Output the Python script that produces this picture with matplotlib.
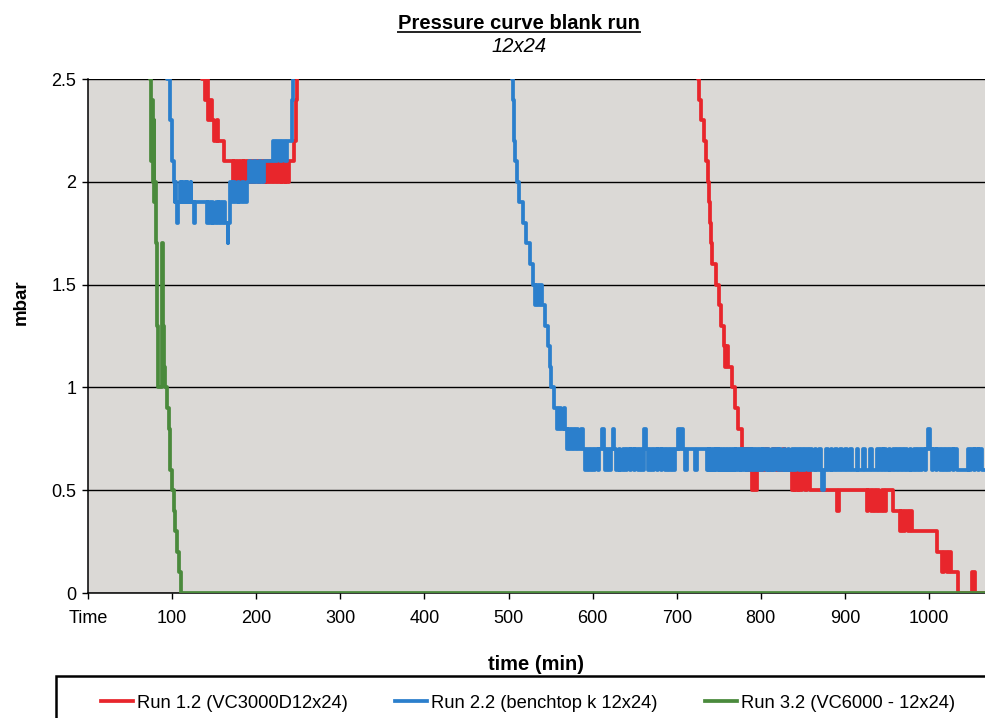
import matplotlib.pyplot as plt
from matplotlib import font_manager
from matplotlib.patches import Rectangle
from matplotlib.lines import Line2D

# ---------- DATA (time in min, pressure in mbar) ----------
red_run = [
    (130, 3.0), (133, 2.6), (136, 2.5), (139, 2.4), (141, 2.5), (143, 2.3),
    (145, 2.4), (147, 2.3), (150, 2.2), (153, 2.3), (155, 2.2), (162, 2.1),
    (172, 2.0), (174, 2.1), (176, 2.0), (178, 2.1), (180, 2.0), (182, 2.1),
    (184, 2.0), (186, 2.1), (188, 2.0), (190, 2.1), (192, 2.0), (194, 2.1),
    (196, 2.0), (199, 2.1), (202, 2.0), (205, 2.1), (208, 2.0), (210, 2.1),
    (212, 2.0), (214, 2.1), (216, 2.0), (219, 2.1), (221, 2.0), (224, 2.1),
    (226, 2.0), (229, 2.1), (231, 2.0), (234, 2.1), (236, 2.0), (239, 2.1),
    (245, 2.2), (247, 2.4), (249, 2.6), (251, 3.0),
    (722, 2.6), (725, 2.5), (727, 2.4), (729, 2.3), (733, 2.2), (735, 2.1),
    (737, 2.0), (739, 1.9), (740, 1.8), (741, 1.7), (742, 1.6), (747, 1.5),
    (750, 1.4), (753, 1.3), (756, 1.2), (757, 1.1), (759, 1.2), (761, 1.1),
    (766, 1.0), (769, 0.9), (773, 0.8), (778, 0.7), (783, 0.6), (786, 0.7),
    (789, 0.5), (791, 0.6), (793, 0.5), (796, 0.6), (805, 0.7), (808, 0.6),
    (815, 0.7), (818, 0.6), (826, 0.7), (829, 0.6), (837, 0.5), (839, 0.6),
    (841, 0.5), (844, 0.6), (846, 0.5), (849, 0.6), (852, 0.5), (855, 0.6),
    (858, 0.5), (891, 0.4), (893, 0.5), (926, 0.4), (928, 0.5), (931, 0.4),
    (933, 0.5), (936, 0.4), (938, 0.5), (941, 0.4), (944, 0.5), (947, 0.4),
    (949, 0.5), (957, 0.4), (965, 0.3), (967, 0.4), (969, 0.3), (972, 0.4),
    (975, 0.3), (977, 0.4), (980, 0.3), (1009, 0.2), (1016, 0.1), (1018, 0.2),
    (1021, 0.1), (1024, 0.2), (1026, 0.1), (1034, 0.0), (1051, 0.1), (1055, 0.0),
    (1066, 0.0),
]

blue_run = [
    (90, 3.0), (94, 2.5), (97, 2.3), (100, 2.1), (102, 2.0), (103, 1.9),
    (104, 2.0), (105, 1.9), (106, 1.8), (107, 1.9), (109, 2.0), (110, 1.9),
    (112, 2.0), (113, 1.9), (115, 2.0), (116, 1.9), (118, 2.0), (119, 1.9),
    (122, 2.0), (123, 1.9), (126, 1.8), (127, 1.9), (141, 1.8), (143, 1.9),
    (145, 1.8), (147, 1.9), (149, 1.8), (152, 1.9), (154, 1.8), (156, 1.9),
    (158, 1.8), (161, 1.9), (163, 1.8), (166, 1.7), (167, 1.8), (169, 2.0),
    (171, 1.9), (173, 2.0), (175, 1.9), (178, 2.0), (180, 1.9), (183, 2.0),
    (186, 1.9), (189, 2.0), (192, 2.1), (194, 2.0), (197, 2.1), (200, 2.0),
    (203, 2.1), (206, 2.0), (209, 2.1), (220, 2.2), (222, 2.1), (225, 2.2),
    (228, 2.1), (231, 2.2), (234, 2.1), (237, 2.2), (242, 2.4), (244, 2.6),
    (246, 3.0),
    (503, 2.6), (504, 2.5), (505, 2.4), (506, 2.3), (507, 2.2), (508, 2.1),
    (510, 2.0), (513, 1.9), (517, 1.8), (521, 1.7), (525, 1.6), (529, 1.5),
    (531, 1.4), (533, 1.5), (535, 1.4), (538, 1.5), (540, 1.4), (543, 1.3),
    (547, 1.2), (549, 1.1), (551, 1.0), (554, 0.9), (558, 0.8), (560, 0.9),
    (562, 0.8), (566, 0.9), (567, 0.8), (569, 0.7), (571, 0.8), (573, 0.7),
    (575, 0.8), (578, 0.7), (580, 0.8), (583, 0.7), (586, 0.8), (588, 0.7),
    (591, 0.6), (593, 0.7), (596, 0.6), (598, 0.7), (601, 0.6), (603, 0.7),
    (606, 0.6), (608, 0.7), (611, 0.8), (613, 0.7), (615, 0.6), (617, 0.7),
    (620, 0.6), (622, 0.7), (624, 0.8), (626, 0.7), (628, 0.6), (631, 0.7),
    (633, 0.6), (636, 0.7), (639, 0.6), (641, 0.7), (644, 0.6), (646, 0.7),
    (649, 0.6), (651, 0.7), (654, 0.6), (656, 0.7), (659, 0.6), (661, 0.8),
    (663, 0.7), (666, 0.6), (668, 0.7), (671, 0.6), (673, 0.7), (676, 0.6),
    (678, 0.7), (681, 0.6), (683, 0.7), (686, 0.6), (688, 0.7), (691, 0.6),
    (693, 0.7), (696, 0.6), (698, 0.7), (701, 0.8), (703, 0.7), (705, 0.8),
    (707, 0.7), (710, 0.6), (712, 0.7), (722, 0.6), (724, 0.7), (736, 0.6),
    (738, 0.7), (739, 0.6), (741, 0.7), (742, 0.6), (744, 0.7), (745, 0.6),
    (747, 0.7), (749, 0.6), (750, 0.7), (752, 0.6), (754, 0.7), (755, 0.6),
    (757, 0.7), (759, 0.6), (761, 0.7), (762, 0.6), (764, 0.7), (766, 0.6),
    (768, 0.7), (769, 0.6), (771, 0.7), (773, 0.6), (775, 0.7), (776, 0.6),
    (778, 0.7), (780, 0.6), (782, 0.7), (784, 0.6), (786, 0.7), (788, 0.6),
    (790, 0.7), (792, 0.6), (794, 0.7), (797, 0.6), (799, 0.7), (801, 0.6),
    (803, 0.7), (806, 0.6), (808, 0.7), (810, 0.6), (813, 0.7), (815, 0.6),
    (817, 0.7), (820, 0.6), (822, 0.7), (824, 0.6), (827, 0.7), (829, 0.6),
    (832, 0.7), (834, 0.6), (837, 0.7), (840, 0.6), (842, 0.7), (845, 0.6),
    (848, 0.7), (850, 0.6), (853, 0.7), (856, 0.6), (858, 0.7), (861, 0.6),
    (864, 0.7), (866, 0.6), (869, 0.7), (871, 0.6), (873, 0.5), (875, 0.6),
    (878, 0.7), (880, 0.6), (883, 0.7), (885, 0.6), (888, 0.7), (891, 0.6),
    (894, 0.7), (897, 0.6), (900, 0.7), (902, 0.6), (906, 0.7), (908, 0.6),
    (914, 0.7), (916, 0.6), (922, 0.7), (924, 0.6), (930, 0.7), (932, 0.6),
    (938, 0.7), (940, 0.6), (943, 0.7), (945, 0.6), (947, 0.7), (949, 0.6),
    (952, 0.7), (954, 0.6), (957, 0.7), (959, 0.6), (962, 0.7), (964, 0.6),
    (967, 0.7), (969, 0.6), (972, 0.7), (974, 0.6), (977, 0.7), (979, 0.6),
    (982, 0.7), (984, 0.6), (987, 0.7), (989, 0.6), (992, 0.7), (995, 0.6),
    (997, 0.7), (999, 0.8), (1001, 0.7), (1003, 0.6), (1005, 0.7), (1008, 0.6),
    (1010, 0.7), (1013, 0.6), (1015, 0.7), (1018, 0.6), (1020, 0.7), (1023, 0.6),
    (1025, 0.7), (1028, 0.6), (1030, 0.7), (1033, 0.6), (1046, 0.7), (1048, 0.6),
    (1050, 0.7), (1053, 0.6), (1055, 0.7), (1058, 0.6), (1060, 0.7), (1063, 0.6),
    (1066, 0.6),
]

green_run = [
    (66, 3.0), (74, 2.5), (75, 2.1), (76, 2.4), (77, 2.0), (78, 2.3),
    (79, 1.9), (80, 2.0), (81, 1.7), (82, 1.3), (83, 1.0), (87, 1.0),
    (88, 1.7), (89, 1.3), (90, 1.1), (92, 1.0), (94, 0.9), (96, 0.8),
    (98, 0.6), (100, 0.5), (102, 0.4), (104, 0.3), (106, 0.2), (108, 0.1),
    (111, 0.0), (1066, 0.0),
]

run_labels = ['Run 1.2 (VC3000D12x24)', 'Run 2.2 (benchtop k 12x24)', 'Run 3.2 (VC6000 - 12x24)']
run_colors = ['#e8262c', '#2b7fcc', '#4a8a3c']

x_ticks = [0, 100, 200, 300, 400, 500, 600, 700, 800, 900, 1000]
x_ticklabels = ['Time', '100', '200', '300', '400', '500', '600', '700', '800', '900', '1000']
y_ticks = [0, 0.5, 1, 1.5, 2, 2.5]
y_ticklabels = ['0', '0.5', '1', '1.5', '2', '2.5']

# ---------- FONTS ----------
installed = {f.name for f in font_manager.fontManager.ttflist}
if 'Liberation Sans Narrow' in installed:
    body = ['Liberation Sans Narrow', 'Liberation Sans']
    fs_tick, fs_leg, fs_lab = 15, 16, 16
else:
    body = ['Liberation Sans', 'DejaVu Sans']
    fs_tick, fs_leg, fs_lab = 13, 13.2, 14.5
head = ['Liberation Sans', 'DejaVu Sans']
plt.rcParams['font.family'] = body

W, H = 985, 718
fig = plt.figure(figsize=(W / 100, H / 100), dpi=100)
ax = fig.add_axes([88 / W, (H - 593) / H, (W - 88) / W, 514 / H])
ax.set_facecolor('#dbd9d6')

lines = []
for run, col in zip([red_run, blue_run, green_run], run_colors):
    t = [p[0] for p in run]
    v = [p[1] for p in run]
    ln, = ax.plot(t, v, drawstyle='steps-post', color=col, linewidth=2.7, zorder=3)
    lines.append(ln)

ax.set_xlim(0, (W - 88) / 0.841)
ax.set_ylim(0, 2.5)
ax.set_xticks(x_ticks)
ax.set_xticklabels(x_ticklabels)
ax.set_yticks(y_ticks)
ax.set_yticklabels(y_ticklabels)
ax.grid(axis='y', color='black', linewidth=1.0, zorder=1)
ax.set_axisbelow(True)

for s in ['top', 'right']:
    ax.spines[s].set_visible(False)
for s in ['left', 'bottom']:
    ax.spines[s].set_color('black')
    ax.spines[s].set_linewidth(1.1)

ax.tick_params(axis='x', direction='out', length=4, width=1, pad=8, labelsize=fs_tick)
ax.tick_params(axis='y', direction='out', length=4.5, width=1, pad=4, labelsize=fs_tick)

ax.set_xlabel('time (min)', fontsize=fs_lab, fontweight='bold')
ax.xaxis.set_label_coords(0.5, -(664 - 593) / 514)
ax.xaxis.label.set_verticalalignment('center')
fig.text(21 / W, 1 - 302 / H, 'mbar', rotation=90, ha='center', va='center',
         fontsize=fs_lab - 1, fontweight='bold')

# title with underline
title = fig.text(519 / W, 1 - 29 / H, 'Pressure curve blank run', ha='center', va='baseline',
                 fontsize=14.5, fontweight='bold', family=head)
fig.text(519 / W, 1 - 52 / H, '12x24', ha='center', va='baseline',
         fontsize=14.5, style='italic', family=head)
fig.canvas.draw()
bb = title.get_window_extent(fig.canvas.get_renderer())
fig.add_artist(Line2D([bb.x0 / W, bb.x1 / W], [1 - 32 / H, 1 - 32 / H],
                      transform=fig.transFigure, color='#222222', linewidth=1.4))

# legend box (cut off at right and bottom like the source)
fig.add_artist(Rectangle((56 / W, -0.05), 2, (H - 676) / H + 0.05, transform=fig.transFigure,
                         fill=False, edgecolor='black', linewidth=1.8, clip_on=False))
fig.legend(lines, run_labels, loc='center left', bbox_to_anchor=(101 / W, 1 - 703 / H),
           ncol=3, frameon=False, fontsize=fs_leg, borderpad=0, borderaxespad=0,
           handlelength=1.75, handletextpad=0.2, columnspacing=2.6)

fig.savefig('out.png', dpi=100)
